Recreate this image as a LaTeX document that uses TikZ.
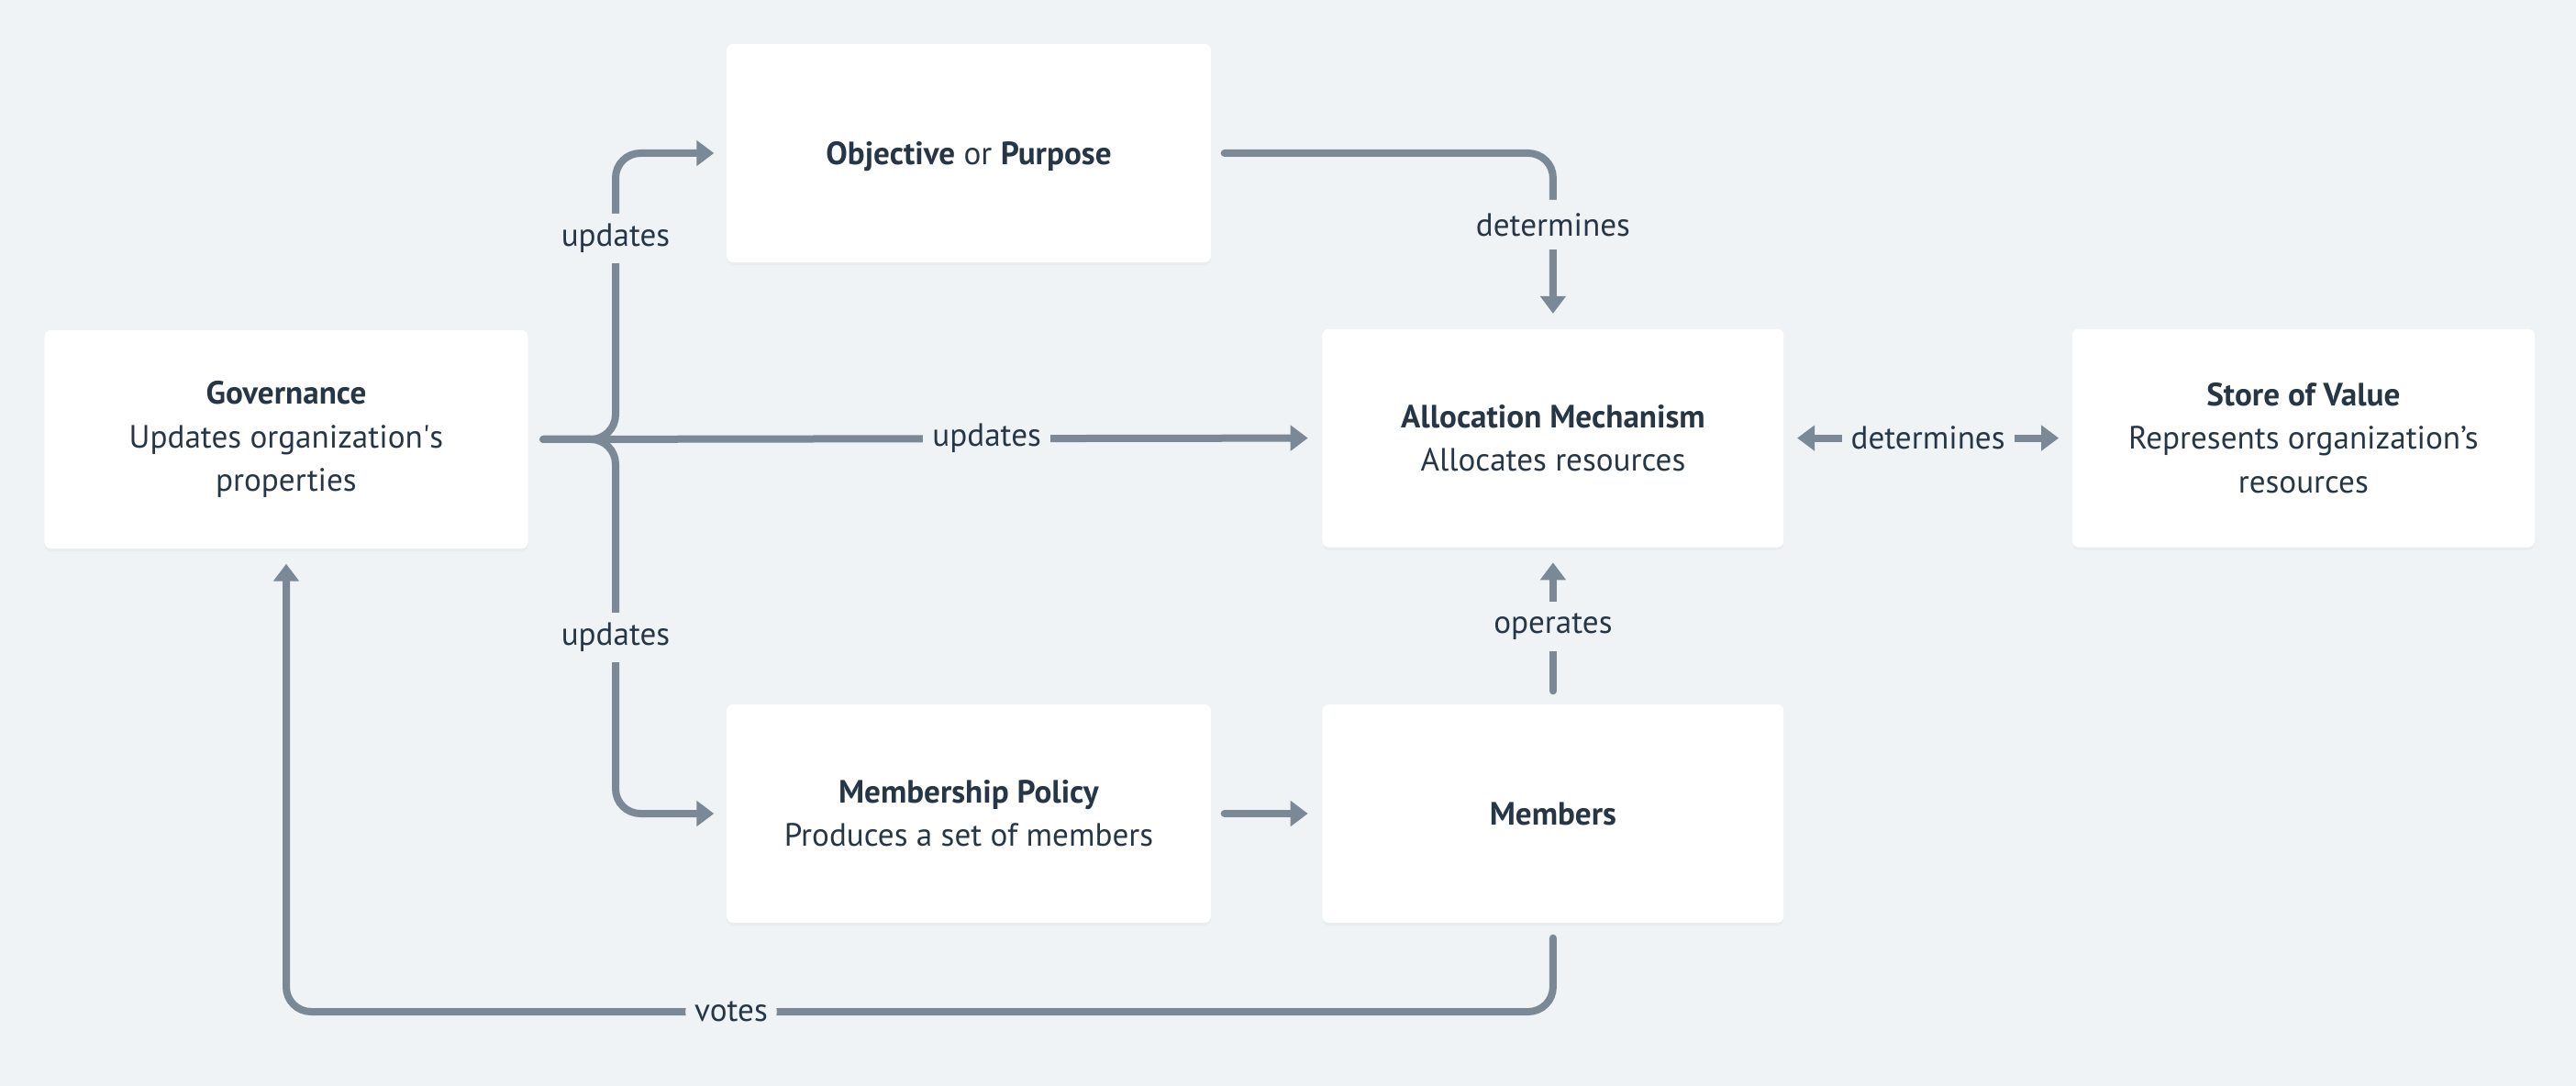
\documentclass[tikz,border=0pt]{standalone}
\usepackage{fontspec}
\setmainfont{PT Sans}
\usetikzlibrary{positioning,arrows.meta,shadows}

\definecolor{canvas}{HTML}{EFF3F6}
\definecolor{wire}{HTML}{7B8895}
\definecolor{ink}{HTML}{263646}

\tikzset{
  box/.style={fill=white, rounded corners=0.07cm, minimum height=2.38cm,
    align=center, text=ink, font=\fontsize{10}{13.4}\selectfont,
    drop shadow={shadow xshift=0cm, shadow yshift=-0.03cm, opacity=0.05}},
  link/.style={draw=wire, line width=0.08cm, line cap=round,
    -{Triangle[length=0.19cm,width=0.27cm]}},
  lbl/.style={fill=canvas, text=ink, font=\fontsize{10}{12}\selectfont,
    inner xsep=0.1cm, inner ysep=0pt, minimum height=0.54cm}
}

\begin{document}
\begin{tikzpicture}[node distance=1.2cm]
  \fill[canvas] (0,0) rectangle (28.08,-11.84);
  \useasboundingbox (0,0) rectangle (28.08,-11.84);

  % boxes
  \node (gov) [box, minimum width=5.27cm] at (3.12,-4.79)
    {\textbf{Governance}\\Updates organization\textquotesingle s\\properties};
  \node (obj) [box, minimum width=5.28cm, text depth=0pt] at (10.56,-1.67)
    {\textbf{Objective} or \textbf{Purpose}};
  \node (policy) [box, minimum width=5.28cm] at (10.56,-8.87)
    {\textbf{Membership Policy}\\Produces a set of members};
  \node (members) [box, minimum width=5.03cm, right=of policy] {\textbf{Members}};
  \node (alloc) [box, minimum width=5.03cm, above=1.7cm of members]
    {\textbf{Allocation Mechanism}\\Allocates resources};
  \node (store) [box, minimum width=5.04cm, right=3.13cm of alloc]
    {\textbf{Store of Value}\\Represents organization’s\\resources};

  % governance updates
  \draw[link] ([xshift=0.16cm]gov.east) -- node[lbl, pos=0.58] {updates} ([xshift=-0.15cm]alloc.west);
  \draw[link, rounded corners=0.27cm] ([xshift=0.16cm]gov.east) -| (6.71,-2.60) node[lbl] {updates}
    -- (6.71,-1.67) -- ([xshift=-0.13cm]obj.west);
  \draw[link, rounded corners=0.27cm] ([xshift=0.16cm]gov.east) -| (6.71,-6.95) node[lbl] {updates}
    -- (6.71,-8.87) -- ([xshift=-0.13cm]policy.west);

  % determines
  \draw[link, rounded corners=0.27cm] ([xshift=0.14cm]obj.east) -| (alloc.north |- 0,-2.45) node[lbl] {determines}
    -- ([yshift=0.16cm]alloc.north);
  \draw[link, {Triangle[length=0.19cm,width=0.27cm]}-{Triangle[length=0.19cm,width=0.27cm]}]
    ([xshift=0.14cm]alloc.east) -- node[lbl] {determines} ([xshift=-0.14cm]store.west);

  % members
  \draw[link] ([yshift=0.14cm]members.north) -- node[lbl] {operates} ([yshift=-0.16cm]alloc.south);
  \draw[link] ([xshift=0.14cm]policy.east) -- ([xshift=-0.15cm]members.west);
  \draw[link, rounded corners=0.27cm] ([yshift=-0.16cm]members.south) |- (7.97,-11.03) node[lbl] {votes}
    -| ([yshift=-0.16cm]gov.south);
\end{tikzpicture}
\end{document}
